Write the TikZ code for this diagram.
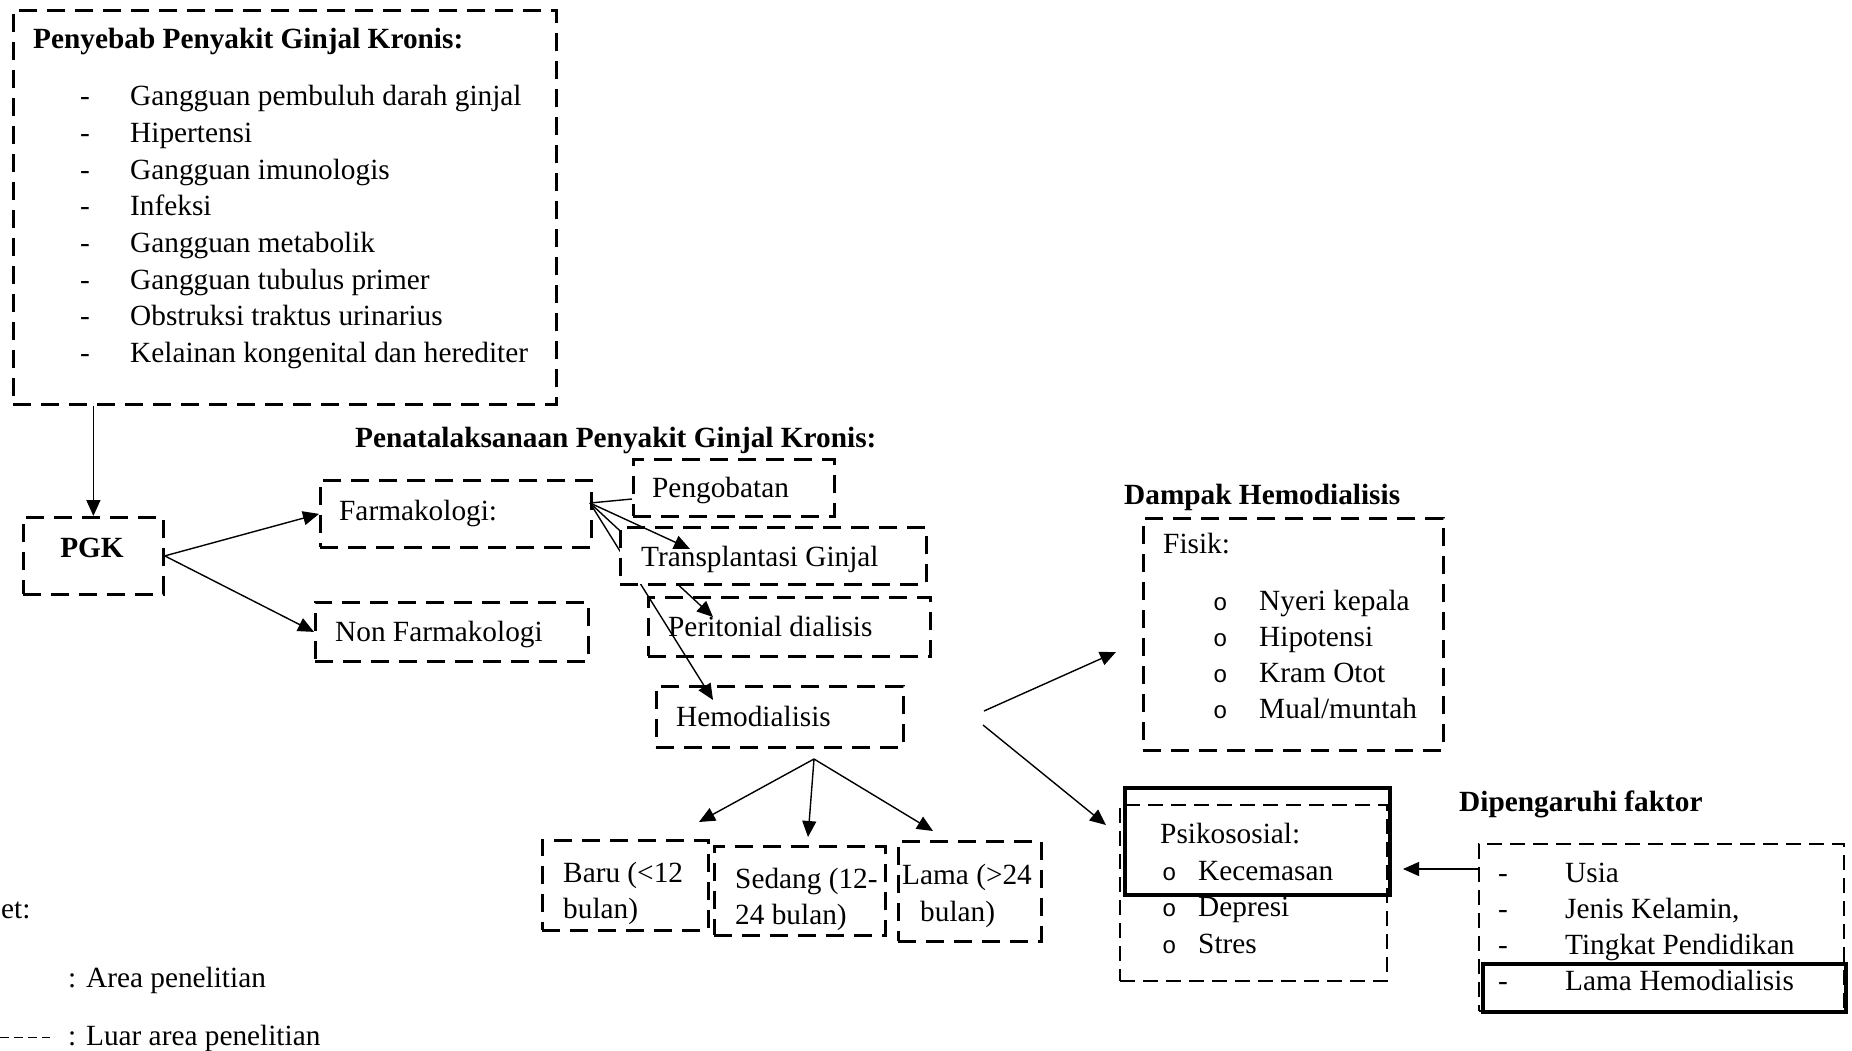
\documentclass[tikz,border=0pt]{standalone}
\usepackage{fontspec}
\setmainfont{Liberation Serif}
\newfontfamily\bulletfont{Liberation Mono}
\usetikzlibrary{arrows.meta}
\begin{document}
\begin{tikzpicture}[x=1pt,y=-1pt,
  every node/.style={font=\fontsize{29.3}{36.6}\selectfont},
  dbox/.style={draw, line width=2.8pt, dash pattern=on 18pt off 10pt, fill=white, inner sep=0pt, anchor=north west},
  tbox/.style={dbox, line width=2pt, dash pattern=on 15pt off 8pt},
  sbox/.style={draw, line width=4pt, inner sep=0pt, anchor=north west},
  tx/.style={anchor=base west, inner sep=0pt},
  bt/.style={tx, font=\fontsize{29.3}{36.6}\selectfont\bfseries},
  bul/.style={tx, font=\fontsize{24}{30}\bulletfont},
  conn/.style={line width=1.4pt},
  arr/.style={conn, -{Triangle[length=16pt,width=14pt]}}
]
\useasboundingbox (0,0) rectangle (1852,1051);

% ---- Causes box
\node[dbox, minimum width=543pt, minimum height=394pt] (cause) at (12,9) {};
\node[bt] (causeT) at (33,49) {Penyebab Penyakit Ginjal Kronis:};
\foreach \t [count=\i] in {Gangguan pembuluh darah ginjal, Hipertensi, Gangguan imunologis, Infeksi, Gangguan metabolik, Gangguan tubulus primer, Obstruksi traktus urinarius, Kelainan kongenital dan herediter}{
  \node[anchor=base, inner sep=0pt] (cd\i) at (85,{106+36.6*(\i-1)}) {-};
  \node[tx] (ci\i) at (130,{106+36.6*(\i-1)}) {\t};
}

% ---- PGK
\node[dbox, minimum width=140pt, minimum height=77pt] (pgk) at (22,516) {};
\node[anchor=base, inner sep=0pt, font=\fontsize{29.3}{36.6}\selectfont\bfseries] (pgkT) at (92,557) {PGK};
\draw[arr] (pgk.north |- cause.south) -- (pgk.north);

% ---- Farmakologi / Non
\node[dbox, minimum width=271pt, minimum height=67pt] (farm) at (319,479) {};
\node[tx] (farmT) at (339,520) {Farmakologi:};
\node[dbox, minimum width=273pt, minimum height=59pt] (non) at (314,601) {};
\node[tx] (nonT) at (335,641) {Non Farmakologi};
\draw[arr] (pgk.east) -- (farm.west);
\draw[arr] (pgk.east) -- (non.west);

\node[bt] (penT) at (355,447) {Penatalaksanaan Penyakit Ginjal Kronis:};

\coordinate (F) at (590,503);
\coordinate (tpTip) at (690,549);
\coordinate (prTip) at (713,617);
\coordinate (hdTip) at (713,700);
\coordinate (pgEnd) at (632,499);

% ---- Peritonial and Hemodialisis
\node[dbox, minimum width=282pt, minimum height=59pt] (peri) at (647,596) {};
\node[tx] (periT) at (668,636) {Peritonial dialisis};
\node[dbox, minimum width=247pt, minimum height=61pt] (hemo) at (655,685) {};
\node[tx] (hemoT) at (676,726) {Hemodialisis};
\draw[arr] (F) -- (prTip);
\draw[arr] (F) -- (hdTip);

% ---- Transplantasi
\node[dbox, minimum width=306pt, minimum height=57pt] (trans) at (619,526) {};
\node[tx] (transT) at (641,566) {Transplantasi Ginjal};
\draw[arr] (F) -- (tpTip);

% ---- Pengobatan
\node[dbox, minimum width=201pt, minimum height=57pt] (peng) at (632,458) {};
\node[tx] (pengT) at (652,497) {Pengobatan};
\draw[conn] (F) -- (pgEnd);

% ---- Duration boxes
\coordinate (H) at (814,759);
\node[dbox, minimum width=166pt, minimum height=90pt] (baru) at (541,839) {};
\node[tx] (baruT1) at (563,882) {Baru (<12};
\node[tx] (baruT2) at (563,918) {bulan)};
\node[dbox, minimum width=171pt, minimum height=89pt] (sedang) at (713,845) {};
\node[tx] (sedT1) at (735,888) {Sedang (12-};
\node[tx] (sedT2) at (735,924) {24 bulan)};
\node[dbox, minimum width=143pt, minimum height=100pt] (lama) at (897,840) {};
\node[tx] (lamaT1) at (902,884) {Lama (>24};
\node[tx] (lamaT2) at (920,921) {bulan)};
\coordinate (baruTip) at (699,822);
\coordinate (sedTip) at (808,837);
\coordinate (lamaTip) at (933,831);
\draw[arr] (H) -- (baruTip);
\draw[arr] (H) -- (sedTip);
\draw[arr] (H) -- (lamaTip);

% ---- Dampak
\node[bt] (dampT) at (1124,504) {Dampak Hemodialisis};
\node[dbox, minimum width=300pt, minimum height=232pt] (fisik) at (1142,517) {};
\node[tx] (fisT) at (1163,553) {Fisik:};
\foreach \t [count=\i] in {Nyeri kepala, Hipotensi, Kram Otot, Mual/muntah}{
  \node[bul] (fb\i) at (1213,{610+36*(\i-1)}) {o};
  \node[tx] (fi\i) at (1259,{610+36*(\i-1)}) {\t};
}

\node[tbox, minimum width=267pt, minimum height=176pt] (psi) at (1119,804) {};
\node[tx] (psiT) at (1160,843) {Psikososial:};
\foreach \t [count=\i] in {Kecemasan, Depresi, Stres}{
  \node[bul] (pb\i) at (1162,{880+36.5*(\i-1)}) {o};
  \node[tx] (pi\i) at (1198,{880+36.5*(\i-1)}) {\t};
}
\node[sbox, minimum width=265pt, minimum height=107pt] (psiS) at (1123,786) {};

\coordinate (d1s) at (984,711);
\coordinate (d1e) at (1116,652);
\coordinate (d2s) at (983,725);
\coordinate (d2e) at (1106,825);
\draw[arr] (d1s) -- (d1e);
\draw[arr] (d2s) -- (d2e);

% ---- Faktor
\node[bt] (fakT) at (1459,811) {Dipengaruhi faktor};
\node[tbox, minimum width=365pt, minimum height=167pt] (fak) at (1478,843) {};
\foreach \t [count=\i] in {Usia, {Jenis Kelamin,}, Tingkat Pendidikan, Lama Hemodialisis}{
  \node[anchor=base, inner sep=0pt] (fd\i) at (1503,{882+36*(\i-1)}) {-};
  \node[tx] (fi\i) at (1565,{882+36*(\i-1)}) {\t};
}
\node[sbox, minimum width=363pt, minimum height=48pt] (fakS) at (1481,962) {};
\coordinate (fakTip) at (1403,869);
\draw[arr] (fak.west |- fakTip) -- (fakTip);

% ---- Legend
\node[tx] (legK) at (1,918) {et:};
\node[tx] (legA) at (68,987) {: Area penelitian};
\node[tx] (legL) at (68,1045) {: Luar area penelitian};
\coordinate (lg1) at (0,1037);
\coordinate (lg2) at (50,1037);
\draw[line width=1pt, dash pattern=on 9pt off 5pt] (lg1) -- (lg2);
\end{tikzpicture}
\end{document}
